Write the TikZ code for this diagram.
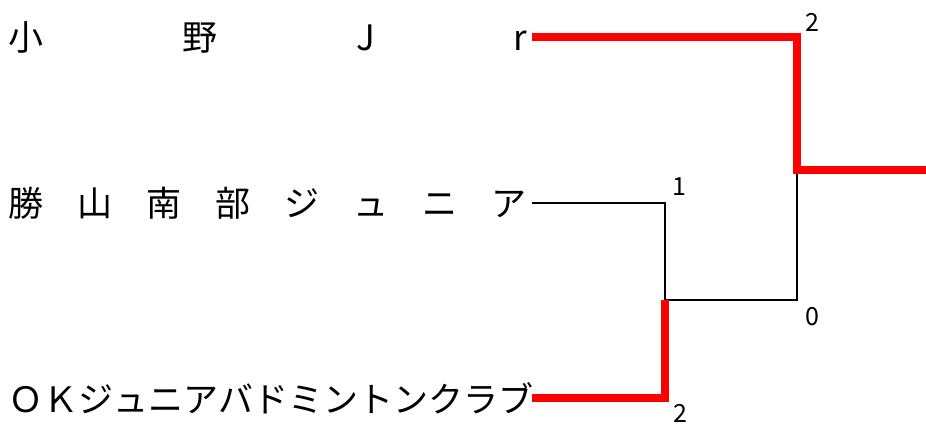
\documentclass[tikz,border=0pt]{standalone}
\usepackage{fontspec}
\setmainfont{Noto Sans CJK JP}
\usepackage{xcolor}
\definecolor{wred}{HTML}{FF0000}

\begin{document}
\begin{tikzpicture}[x=1pt, y=-1pt,
  team/.style={anchor=west, inner xsep=5pt, inner ysep=0pt, outer sep=0pt, font=\fontsize{35}{35}\selectfont},
  score/.style={inner sep=0pt, font=\fontsize{25}{25}\selectfont},
  win/.style={draw=wred, line width=7.5pt},
  lose/.style={draw=black, line width=2.6pt}]

\useasboundingbox (0,0) rectangle (926,427);

% --- team names, each spread over the same width ---
\node[team] (t1) at (4,37)  {\makebox[518pt][s]{小\hfill 野\hfill J\hfill r}};
\node[team] (t2) at (4,203) {\makebox[518pt][s]{勝\hfill 山\hfill 南\hfill 部\hfill ジ\hfill ュ\hfill ニ\hfill ア}};
\node[team] (t3) at (4,398) {\makebox[518pt][s]{Ｏ\hfill Ｋ\hfill ジ\hfill ュ\hfill ニ\hfill ア\hfill バ\hfill ド\hfill ミ\hfill ン\hfill ト\hfill ン\hfill ク\hfill ラ\hfill ブ}};

% joins of the bracket
\coordinate (semi) at (665,300);
\coordinate (final) at (797,170);
\coordinate (champ) at (926,170);

% --- losers first, winners drawn on top ---
\draw[lose] (t2.east) -| (semi);
\draw[lose] (semi) -| (final);
\draw[win] (t3.east) -| (semi);
\draw[win] (t1.east) -| (final) -- (champ);

% scores
\node[score] (s1) at (812,22)  {2};
\node[score] (s2) at (679,187) {1};
\node[score] (s3) at (812,317) {0};
\node[score] (s4) at (680,413) {2};
\end{tikzpicture}
\end{document}
